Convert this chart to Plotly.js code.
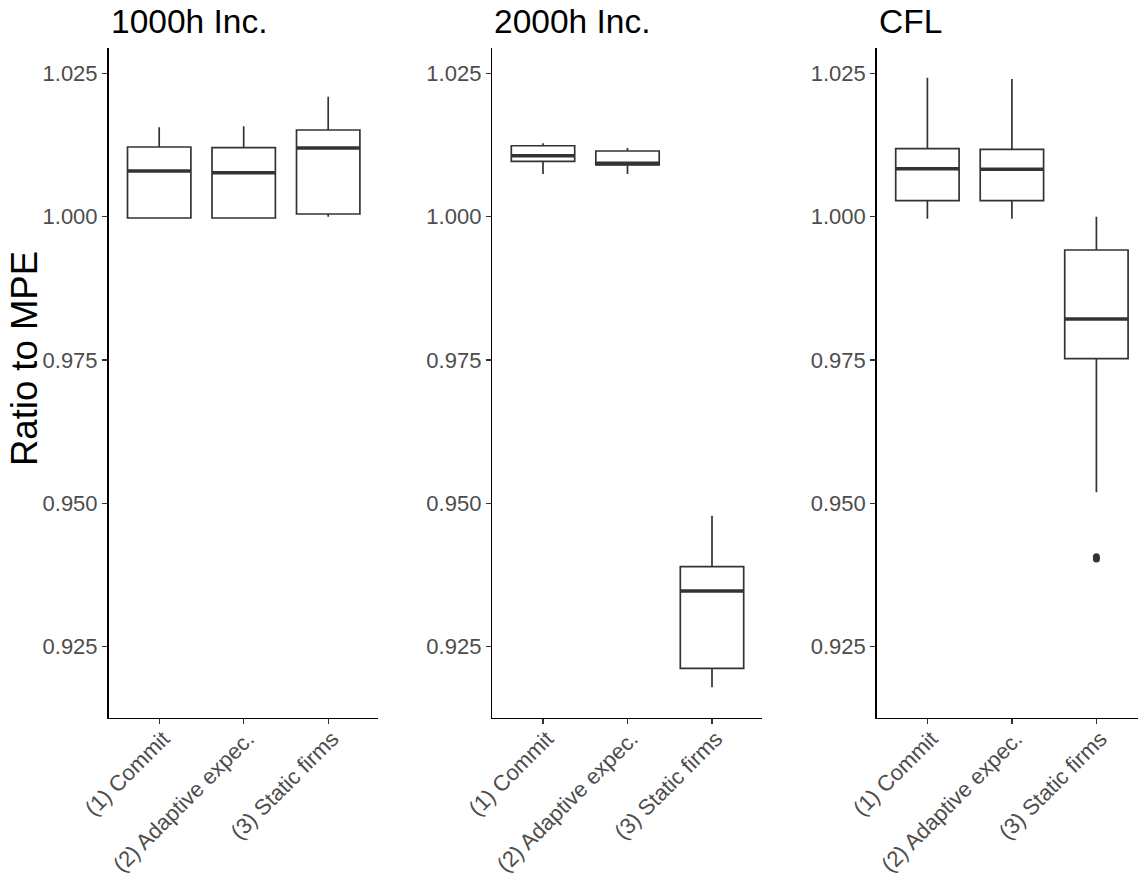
<!DOCTYPE html>
<html>
<head>
<meta charset="utf-8">
<script src="https://cdn.plot.ly/plotly-3.0.1.min.js"></script>
<style>html,body{margin:0;padding:0;background:#fff;}#chart{width:1138px;height:880px;}</style>
</head>
<body>
<div id="chart"></div>
<script>
// Categories and panel titles
const categories = ["(1) Commit", "(2) Adaptive expec.", "(3) Static firms"];
const panels = ["1000h Inc.", "2000h Inc.", "CFL"];

// Box statistics per panel, per category
const lowerFence = [
  [0.99977, 0.99977, 1.00000],
  [1.00745, 1.00745, 0.91791],
  [0.99965, 0.99965, 0.95193]
];
const q1 = [
  [0.99977, 0.99977, 1.00047],
  [1.00966, 1.00902, 0.92123],
  [1.00279, 1.00279, 0.97523]
];
const median = [
  [1.00797, 1.00768, 1.01198],
  [1.01064, 1.00931, 0.93471],
  [1.00837, 1.00827, 0.98216]
];
const q3 = [
  [1.01216, 1.01204, 1.01512],
  [1.01238, 1.01146, 0.93895],
  [1.01186, 1.01176, 0.99419]
];
const upperFence = [
  [1.01560, 1.01577, 1.02093],
  [1.01280, 1.01198, 0.94785],
  [1.02425, 1.02402, 1.00000]
];
// Outliers: [panel, category, value]
const outlierPanel = [2, 2];
const outlierCat = [2, 2];
const outlierValue = [0.94030, 0.94070];

const yTicks = [0.925, 0.950, 0.975, 1.000, 1.025];

const W = 1138, H = 880;
const boxWidth = 0.75;
const lineCol = "#333333";
const font = "Liberation Sans, Arial, Helvetica, sans-serif";

// Panel geometry (pixels)
const panelLeft = [108.5, 492.3, 876.7];
const panelRight = [378.0, 762.3, 1138];
const plotTop = 47.7, plotBottom = 717.7;
const pxPerCat = 84.5;

const traces = [];
const layout = {
  width: W, height: H,
  margin: {l: 0, r: 0, t: 0, b: 0},
  paper_bgcolor: "#ffffff",
  plot_bgcolor: "#ffffff",
  showlegend: false,
  font: {family: font, color: "#4d4d4d"},
  annotations: []
};

for (let p = 0; p < 3; p++) {
  const ax = p === 0 ? "" : String(p + 1);
  const xs = categories.map((c, i) => i + 1);
  traces.push({
    type: "box",
    xaxis: "x" + ax, yaxis: "y" + ax,
    x: xs,
    q1: q1[p], median: median[p], q3: q3[p],
    lowerfence: lowerFence[p], upperfence: upperFence[p],
    width: boxWidth,
    whiskerwidth: 0,
    boxpoints: false,
    fillcolor: "#ffffff",
    line: {color: lineCol, width: 1.7},
    hoverinfo: "skip"
  });
  // thicker median lines, derived from the median values
  const mx = [], my = [];
  for (let i = 0; i < categories.length; i++) {
    mx.push(xs[i] - boxWidth / 2, xs[i] + boxWidth / 2, null);
    my.push(median[p][i], median[p][i], null);
  }
  traces.push({
    type: "scatter", mode: "lines",
    xaxis: "x" + ax, yaxis: "y" + ax,
    x: mx, y: my,
    line: {color: lineCol, width: 3.6},
    hoverinfo: "skip"
  });
  // outliers
  const ox = [], oy = [];
  for (let k = 0; k < outlierValue.length; k++) {
    if (outlierPanel[k] === p) { ox.push(outlierCat[k] + 1); oy.push(outlierValue[k]); }
  }
  if (ox.length) {
    traces.push({
      type: "scatter", mode: "markers",
      xaxis: "x" + ax, yaxis: "y" + ax,
      x: ox, y: oy,
      marker: {color: lineCol, size: 7},
      hoverinfo: "skip"
    });
  }

  const xmax = 0.4 + (panelRight[p] - panelLeft[p]) / pxPerCat;
  layout["xaxis" + ax] = {
    domain: [panelLeft[p] / W, panelRight[p] / W],
    anchor: "y" + ax,
    range: [0.4, xmax],
    tickvals: xs,
    ticktext: categories,
    tickangle: -45,
    ticklabelstandoff: -7,
    ticklabelshift: 4,
    ticks: "outside", ticklen: 5, tickwidth: 1.3, tickcolor: lineCol,
    showline: true, linecolor: "#000000", linewidth: 1.5,
    showgrid: false, zeroline: false,
    tickfont: {family: font, size: 22, color: "#4d4d4d"},
    fixedrange: true
  };
  layout["yaxis" + ax] = {
    domain: [1 - plotBottom / H, 1 - plotTop / H],
    anchor: "x" + ax,
    range: [0.91261, 1.02948],
    tickvals: yTicks,
    ticktext: yTicks.map(v => v.toFixed(3)),
    ticks: "outside", ticklen: 5, tickwidth: 1.3, tickcolor: lineCol,
    showline: true, linecolor: "#000000", linewidth: 1.5,
    showgrid: false, zeroline: false,
    tickfont: {family: font, size: 22, color: "#4d4d4d"},
    fixedrange: true
  };
  layout.annotations.push({
    text: panels[p],
    xref: "paper", yref: "paper",
    x: panelLeft[p] / W, y: 1 - 21 / H,
    xanchor: "left", yanchor: "middle",
    showarrow: false,
    font: {family: font, size: 33.5, color: "#000000"}
  });
}

layout.annotations.push({
  text: "Ratio to MPE",
  xref: "paper", yref: "paper",
  x: 24 / W, y: 1 - 359 / H,
  xanchor: "center", yanchor: "middle",
  textangle: -90,
  showarrow: false,
  font: {family: font, size: 36.5, color: "#000000"}
});

Plotly.newPlot("chart", traces, layout, {staticPlot: true, displayModeBar: false});
</script>
</body>
</html>
